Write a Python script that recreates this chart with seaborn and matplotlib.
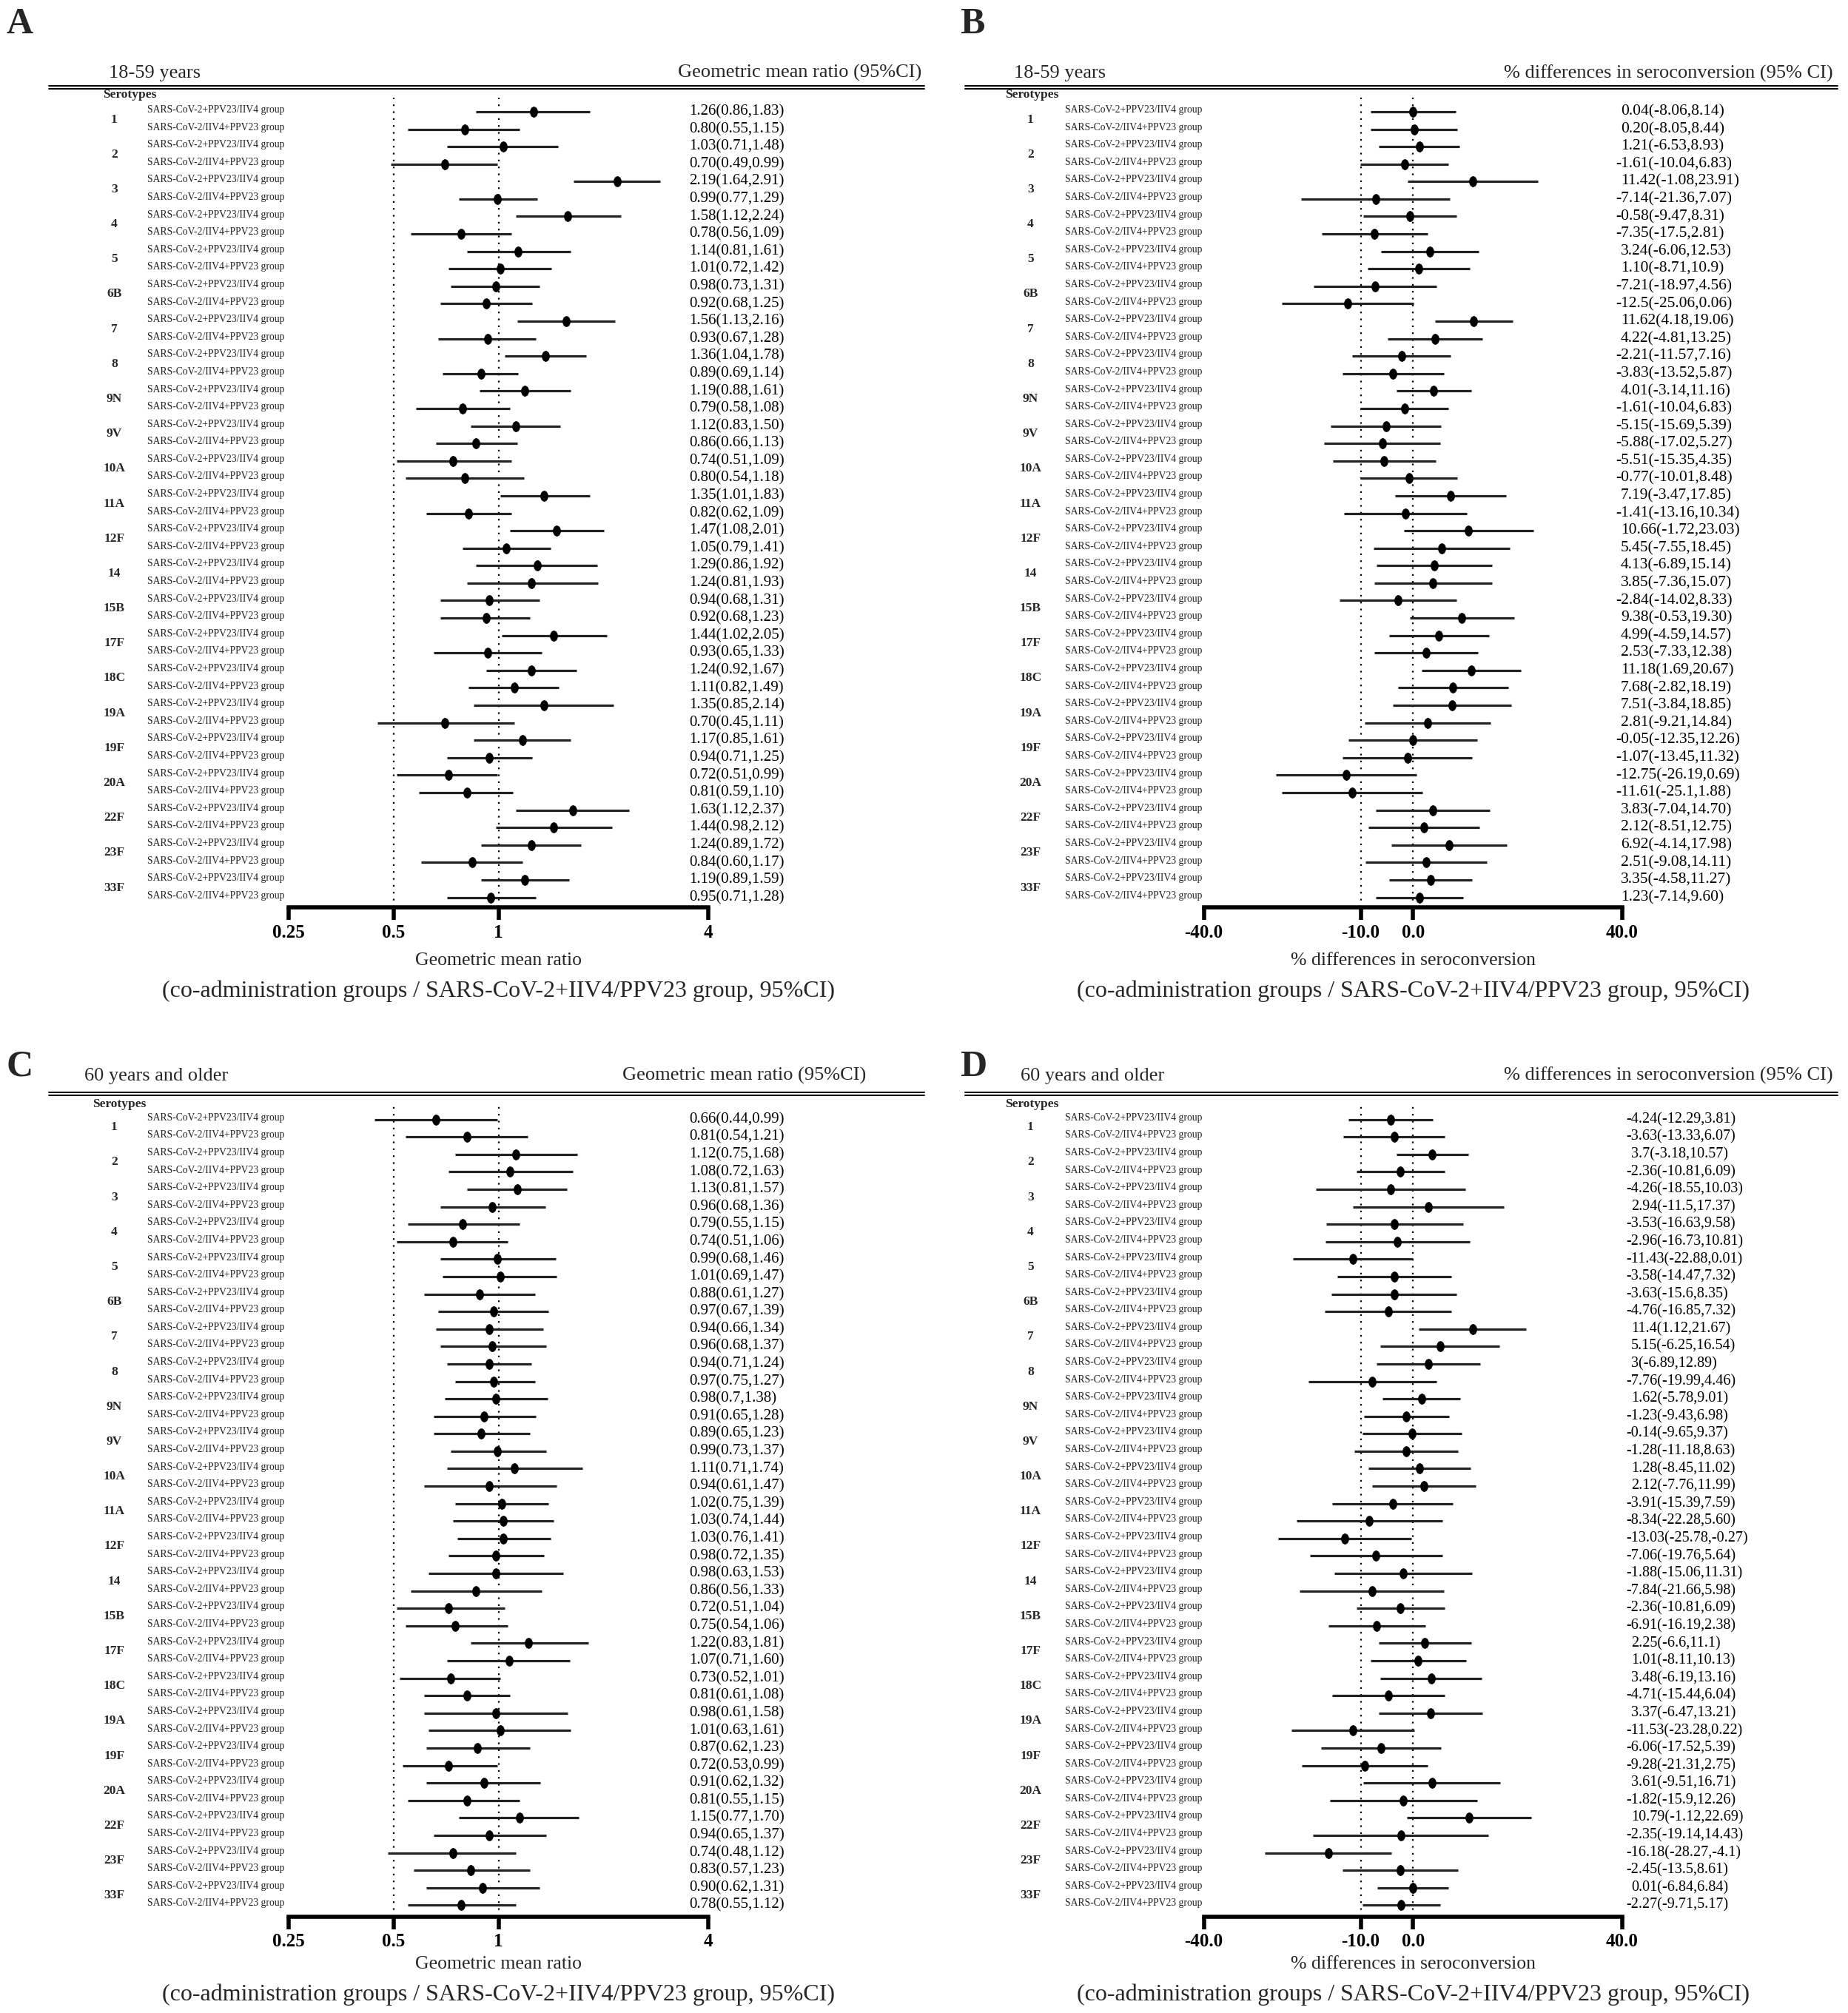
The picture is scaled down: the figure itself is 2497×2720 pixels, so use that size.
"""
Forest plots: GMR and % differences in seroconversion by serotype,
18-59 years and 60 years and older (panels A-D).
"""

import re
import numpy as np
import pandas as pd
import matplotlib
matplotlib.use("Agg")
import matplotlib.pyplot as plt
import matplotlib.transforms as mtransforms
from matplotlib.lines import Line2D
from matplotlib.path import Path
from matplotlib.ticker import NullLocator
import seaborn as sns

SEROTYPES = ["1", "2", "3", "4", "5", "6B", "7", "8", "9N", "9V", "10A", "11A", "12F",
             "14", "15B", "17F", "18C", "19A", "19F", "20A", "22F", "23F", "33F"]
GROUPS = ["SARS-CoV-2+PPV23/IIV4 group", "SARS-CoV-2/IIV4+PPV23 group"]

# estimate(lower,upper) as printed, two rows per serotype (GROUPS order)
GMR_18_59 = [
    "1.26(0.86,1.83)", "0.80(0.55,1.15)", "1.03(0.71,1.48)", "0.70(0.49,0.99)",
    "2.19(1.64,2.91)", "0.99(0.77,1.29)", "1.58(1.12,2.24)", "0.78(0.56,1.09)",
    "1.14(0.81,1.61)", "1.01(0.72,1.42)", "0.98(0.73,1.31)", "0.92(0.68,1.25)",
    "1.56(1.13,2.16)", "0.93(0.67,1.28)", "1.36(1.04,1.78)", "0.89(0.69,1.14)",
    "1.19(0.88,1.61)", "0.79(0.58,1.08)", "1.12(0.83,1.50)", "0.86(0.66,1.13)",
    "0.74(0.51,1.09)", "0.80(0.54,1.18)", "1.35(1.01,1.83)", "0.82(0.62,1.09)",
    "1.47(1.08,2.01)", "1.05(0.79,1.41)", "1.29(0.86,1.92)", "1.24(0.81,1.93)",
    "0.94(0.68,1.31)", "0.92(0.68,1.23)", "1.44(1.02,2.05)", "0.93(0.65,1.33)",
    "1.24(0.92,1.67)", "1.11(0.82,1.49)", "1.35(0.85,2.14)", "0.70(0.45,1.11)",
    "1.17(0.85,1.61)", "0.94(0.71,1.25)", "0.72(0.51,0.99)", "0.81(0.59,1.10)",
    "1.63(1.12,2.37)", "1.44(0.98,2.12)", "1.24(0.89,1.72)", "0.84(0.60,1.17)",
    "1.19(0.89,1.59)", "0.95(0.71,1.28)",
]
SCR_18_59 = [
    "0.04(-8.06,8.14)", "0.20(-8.05,8.44)", "1.21(-6.53,8.93)", "-1.61(-10.04,6.83)",
    "11.42(-1.08,23.91)", "-7.14(-21.36,7.07)", "-0.58(-9.47,8.31)", "-7.35(-17.5,2.81)",
    "3.24(-6.06,12.53)", "1.10(-8.71,10.9)", "-7.21(-18.97,4.56)", "-12.5(-25.06,0.06)",
    "11.62(4.18,19.06)", "4.22(-4.81,13.25)", "-2.21(-11.57,7.16)", "-3.83(-13.52,5.87)",
    "4.01(-3.14,11.16)", "-1.61(-10.04,6.83)", "-5.15(-15.69,5.39)", "-5.88(-17.02,5.27)",
    "-5.51(-15.35,4.35)", "-0.77(-10.01,8.48)", "7.19(-3.47,17.85)", "-1.41(-13.16,10.34)",
    "10.66(-1.72,23.03)", "5.45(-7.55,18.45)", "4.13(-6.89,15.14)", "3.85(-7.36,15.07)",
    "-2.84(-14.02,8.33)", "9.38(-0.53,19.30)", "4.99(-4.59,14.57)", "2.53(-7.33,12.38)",
    "11.18(1.69,20.67)", "7.68(-2.82,18.19)", "7.51(-3.84,18.85)", "2.81(-9.21,14.84)",
    "-0.05(-12.35,12.26)", "-1.07(-13.45,11.32)", "-12.75(-26.19,0.69)", "-11.61(-25.1,1.88)",
    "3.83(-7.04,14.70)", "2.12(-8.51,12.75)", "6.92(-4.14,17.98)", "2.51(-9.08,14.11)",
    "3.35(-4.58,11.27)", "1.23(-7.14,9.60)",
]
GMR_60 = [
    "0.66(0.44,0.99)", "0.81(0.54,1.21)", "1.12(0.75,1.68)", "1.08(0.72,1.63)",
    "1.13(0.81,1.57)", "0.96(0.68,1.36)", "0.79(0.55,1.15)", "0.74(0.51,1.06)",
    "0.99(0.68,1.46)", "1.01(0.69,1.47)", "0.88(0.61,1.27)", "0.97(0.67,1.39)",
    "0.94(0.66,1.34)", "0.96(0.68,1.37)", "0.94(0.71,1.24)", "0.97(0.75,1.27)",
    "0.98(0.7,1.38)", "0.91(0.65,1.28)", "0.89(0.65,1.23)", "0.99(0.73,1.37)",
    "1.11(0.71,1.74)", "0.94(0.61,1.47)", "1.02(0.75,1.39)", "1.03(0.74,1.44)",
    "1.03(0.76,1.41)", "0.98(0.72,1.35)", "0.98(0.63,1.53)", "0.86(0.56,1.33)",
    "0.72(0.51,1.04)", "0.75(0.54,1.06)", "1.22(0.83,1.81)", "1.07(0.71,1.60)",
    "0.73(0.52,1.01)", "0.81(0.61,1.08)", "0.98(0.61,1.58)", "1.01(0.63,1.61)",
    "0.87(0.62,1.23)", "0.72(0.53,0.99)", "0.91(0.62,1.32)", "0.81(0.55,1.15)",
    "1.15(0.77,1.70)", "0.94(0.65,1.37)", "0.74(0.48,1.12)", "0.83(0.57,1.23)",
    "0.90(0.62,1.31)", "0.78(0.55,1.12)",
]
SCR_60 = [
    "-4.24(-12.29,3.81)", "-3.63(-13.33,6.07)", "3.7(-3.18,10.57)", "-2.36(-10.81,6.09)",
    "-4.26(-18.55,10.03)", "2.94(-11.5,17.37)", "-3.53(-16.63,9.58)", "-2.96(-16.73,10.81)",
    "-11.43(-22.88,0.01)", "-3.58(-14.47,7.32)", "-3.63(-15.6,8.35)", "-4.76(-16.85,7.32)",
    "11.4(1.12,21.67)", "5.15(-6.25,16.54)", "3(-6.89,12.89)", "-7.76(-19.99,4.46)",
    "1.62(-5.78,9.01)", "-1.23(-9.43,6.98)", "-0.14(-9.65,9.37)", "-1.28(-11.18,8.63)",
    "1.28(-8.45,11.02)", "2.12(-7.76,11.99)", "-3.91(-15.39,7.59)", "-8.34(-22.28,5.60)",
    "-13.03(-25.78,-0.27)", "-7.06(-19.76,5.64)", "-1.88(-15.06,11.31)", "-7.84(-21.66,5.98)",
    "-2.36(-10.81,6.09)", "-6.91(-16.19,2.38)", "2.25(-6.6,11.1)", "1.01(-8.11,10.13)",
    "3.48(-6.19,13.16)", "-4.71(-15.44,6.04)", "3.37(-6.47,13.21)", "-11.53(-23.28,0.22)",
    "-6.06(-17.52,5.39)", "-9.28(-21.31,2.75)", "3.61(-9.51,16.71)", "-1.82(-15.9,12.26)",
    "10.79(-1.12,22.69)", "-2.35(-19.14,14.43)", "-16.18(-28.27,-4.1)", "-2.45(-13.5,8.61)",
    "0.01(-6.84,6.84)", "-2.27(-9.71,5.17)",
]

GMR_TICKS = [0.25, 0.5, 1, 4]
GMR_TICKLABELS = ["0.25", "0.5", "1", "4"]
GMR_REFS = [0.5, 1]
SCR_TICKS = [-40, -10, 0, 40]
SCR_TICKLABELS = ["-40.0", "-10.0", "0.0", "40.0"]
SCR_REFS = [-10, 0]

SUBTITLE = "(co-administration groups / SARS-CoV-2+IIV4/PPV23 group, 95%CI)"

# layout grid (reference measured on a 1440 x 1568 grid)
W, H = 1440, 1568
STEP = 13.6


def fx(d):
    return d / W


def fy(d):
    return 1 - d / H


def parse(strings):
    vals = [re.match(r"(-?[\d.]+)\((-?[\d.]+),(-?[\d.]+)\)", s).groups() for s in strings]
    arr = np.array(vals, dtype=float)
    return pd.DataFrame({"row": np.arange(len(strings)), "est": arr[:, 0],
                         "lo": arr[:, 1], "hi": arr[:, 2], "text": strings})


sns.set_theme(style="white")
plt.rcParams["font.family"] = ["Liberation Serif", "DejaVu Serif"]

unit = Path.unit_circle()
ELLIPSE = Path(unit.vertices * np.array([0.72, 1.0]), unit.codes)

fig = plt.figure(figsize=(24.97, 27.20), dpi=100)

PANELS = [
    dict(letter="A", strings=GMR_18_59, log=True, age="18-59 years",
         head="Geometric mean ratio (95%CI)", xlabel="Geometric mean ratio",
         lx=5, ly=19, hlx=85, hrx=718, hy=57, line=(38, 720, 68), sero=(80, 74),
         gx=89, rx=115, vx=537, vfs=15, axis=(225, 552), top=76, first=87, spine=707,
         xly=748, suby=772),
    dict(letter="B", strings=SCR_18_59, log=False, age="18-59 years",
         head="% differences in seroconversion (95% CI)", xlabel="% differences in seroconversion",
         lx=748, ly=19, hlx=790, hrx=1428, hy=57, line=(752, 1432, 68), sero=(783, 74),
         gx=803, rx=830, vx=1263, vfs=15.5, axis=(938, 1264), top=75, first=87, spine=707,
         xly=748, suby=772),
    dict(letter="C", strings=GMR_60, log=True, age="60 years and older",
         head="Geometric mean ratio (95%CI)", xlabel="Geometric mean ratio",
         lx=5, ly=831, hlx=66, hrx=675, hy=838, line=(38, 720, 852), sero=(72, 860),
         gx=89, rx=115, vx=537, vfs=15, axis=(225, 552), top=860, first=872, spine=1493,
         xly=1530, suby=1554),
    dict(letter="D", strings=SCR_60, log=False, age="60 years and older",
         head="% differences in seroconversion (95% CI)", xlabel="% differences in seroconversion",
         lx=748, ly=831, hlx=795, hrx=1428, hy=838, line=(752, 1432, 852), sero=(783, 860),
         gx=803, rx=830, vx=1271, vfs=14.5, axis=(938, 1264), top=860, first=872, spine=1493,
         xly=1530, suby=1554),
]


def draw_panel(p):
    df = parse(p["strings"])
    n = len(df)
    x0, x1 = p["axis"]
    ax = fig.add_axes([fx(x0), fy(p["spine"]), fx(x1) - fx(x0), (p["spine"] - p["top"]) / H])
    ax.set_facecolor("none")

    # reference lines
    refs = GMR_REFS if p["log"] else SCR_REFS
    for r in refs:
        ax.axvline(r, color="black", lw=1.6, ls=(0, (1, 3.2)), zorder=1)

    ax.hlines(df["row"], df["lo"], df["hi"], color="#222222", lw=2.3, zorder=2)
    sns.scatterplot(data=df, x="est", y="row", marker=ELLIPSE, s=100, color="black",
                    edgecolor="black", linewidth=0.5, ax=ax, zorder=3, legend=False)

    if p["log"]:
        ax.set_xscale("log", base=2)
        ax.set_xlim(0.25, 4)
        ax.set_xticks(GMR_TICKS)
        ax.set_xticklabels(GMR_TICKLABELS, fontweight="bold")
        ax.xaxis.set_minor_locator(NullLocator())
    else:
        ax.set_xlim(-40, 40)
        ax.set_xticks(SCR_TICKS)
        ax.set_xticklabels(SCR_TICKLABELS, fontweight="bold")

    last = p["first"] + (n - 1) * STEP
    ax.set_ylim((n - 1) + (p["spine"] - last) / STEP, -(p["first"] - p["top"]) / STEP)
    ax.set_yticks([])
    ax.set_xlabel("")
    ax.set_ylabel("")
    for s in ["left", "top", "right"]:
        ax.spines[s].set_visible(False)
    ax.spines["bottom"].set_linewidth(4)
    ax.spines["bottom"].set_color("black")
    ax.tick_params(axis="x", direction="out", length=12, width=4, pad=4,
                   labelsize=18, colors="black", bottom=True)

    trans = mtransforms.blended_transform_factory(fig.transFigure, ax.transData)
    for _, r in df.iterrows():
        ax.text(fx(p["rx"]), r["row"] - 0.1, GROUPS[int(r["row"]) % 2], transform=trans,
                ha="left", va="center", fontsize=9.8, color="#222222", clip_on=False)
        # minus signs hang slightly to the left of the value column
        vx = p["vx"] - (4 if r["text"].startswith("-") else 0)
        ax.text(fx(vx), r["row"], r["text"], transform=trans,
                ha="left", va="center", fontsize=p["vfs"], color="black", clip_on=False)
    for k, sero in enumerate(SEROTYPES):
        ax.text(fx(p["gx"]), 2 * k + 0.45, sero, transform=trans, ha="center", va="center",
                fontsize=12.5, fontweight="bold", clip_on=False)

    # headers and titles
    fig.text(fx(p["lx"]), fy(p["ly"]), p["letter"], ha="left", va="center",
             fontsize=36, fontweight="bold")
    fig.text(fx(p["hlx"]), fy(p["hy"]), p["age"], ha="left", va="center", fontsize=19)
    fig.text(fx(p["hrx"]), fy(p["hy"]), p["head"], ha="right", va="center", fontsize=19)
    lx0, lx1, ly = p["line"]
    for off in (-1.0, 1.0):
        fig.add_artist(Line2D([fx(lx0), fx(lx1)], [fy(ly + off), fy(ly + off)],
                              transform=fig.transFigure, color="black", lw=1.4))
    fig.text(fx(p["sero"][0]), fy(p["sero"][1]), "Serotypes", ha="left", va="center",
             fontsize=12.5, fontweight="bold")
    cx = (x0 + x1) / 2
    fig.text(fx(cx), fy(p["xly"]), p["xlabel"], ha="center", va="center", fontsize=18.5)
    fig.text(fx(cx), fy(p["suby"]), SUBTITLE, ha="center", va="center", fontsize=23)


for p in PANELS:
    draw_panel(p)

fig.savefig("out.png", dpi=100, facecolor="white")
plt.close(fig)
